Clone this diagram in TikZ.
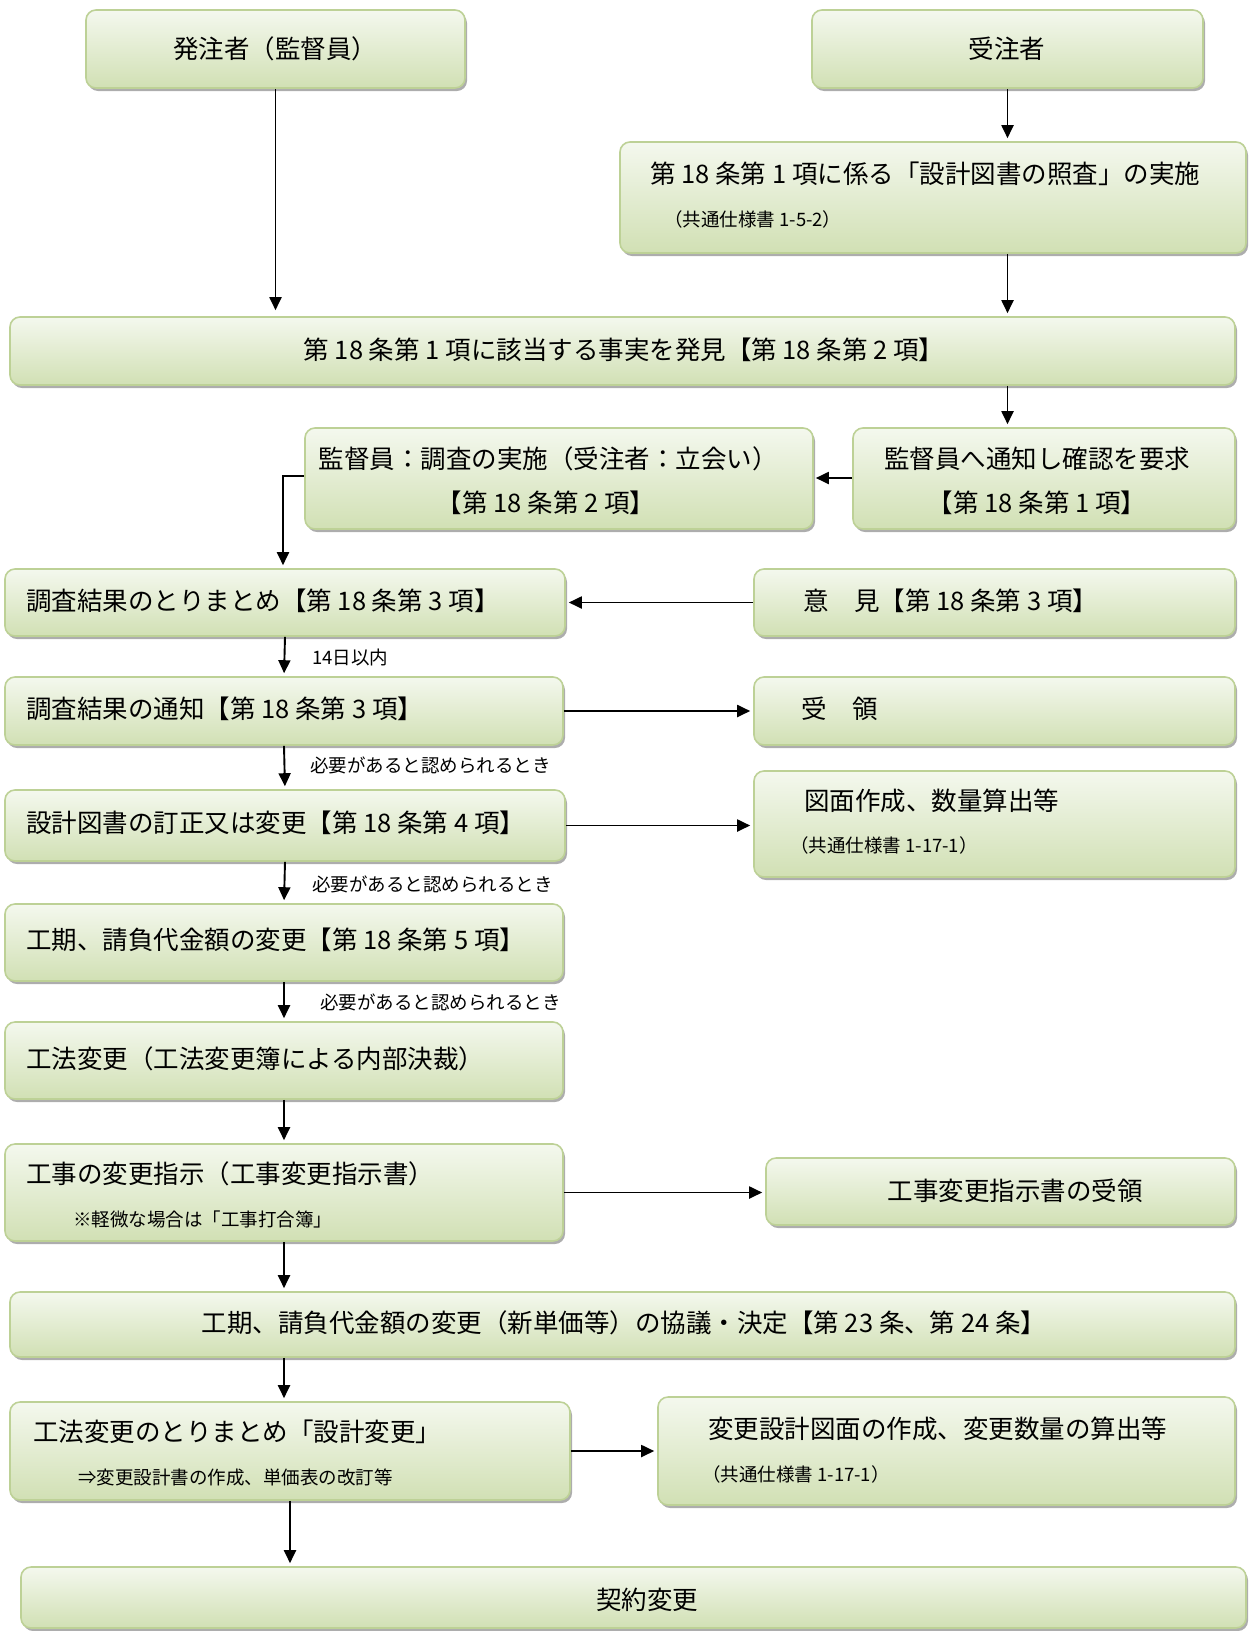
\documentclass[tikz,border=0pt]{standalone}
\usepackage{fontspec}
\setmainfont{Noto Sans CJK JP}
\usetikzlibrary{arrows.meta,shadows,calc}
\definecolor{gtop}{HTML}{F4F8EE}
\definecolor{gbot}{HTML}{D1E0B4}
\definecolor{gline}{HTML}{BDD196}
\tikzset{
  gbox/.style={rectangle, rounded corners=10pt, draw=gline, line width=1.6pt,
    top color=gtop, bottom color=gbot, inner sep=0pt,
    drop shadow={shadow xshift=2pt, shadow yshift=-3pt, fill=black!40, opacity=0.8}},
  big/.style={font=\fontsize{25.5}{30}\selectfont, inner sep=0pt},
  small/.style={font=\fontsize{18.5}{22}\selectfont, inner sep=0pt},
  arr/.style={-{Triangle[length=13pt,width=12pt]}, line width=1.9pt, black},
}
\newcommand\gbox[6]{\node[gbox, minimum width={#4pt-#2pt}, minimum height={#5pt-#3pt}] (#1) at ({(#2+#4)/2},{(#3+#5)/2}) {#6};}
\begin{document}
\begin{tikzpicture}[x=1pt,y=-1pt]
\useasboundingbox (0,0) rectangle (1250,1631);
% boxes
\gbox{b1}{86}{10}{465}{88}{}
\gbox{b2}{812}{10}{1203}{88}{}
\gbox{b3}{620}{142}{1246}{253}{}
\gbox{b4}{10}{317}{1235}{385}{}
\gbox{b5}{305}{428}{813}{529}{}
\gbox{b6}{853}{428}{1235}{529}{}
\gbox{b7}{5}{569}{565}{636}{}
\gbox{b8}{754}{569}{1235}{636}{}
\gbox{b9}{5}{677}{563}{745}{}
\gbox{b10}{754}{677}{1235}{745}{}
\gbox{b11}{5}{790}{565}{861}{}
\gbox{b12}{754}{771}{1235}{877}{}
\gbox{b13}{5}{904}{563}{981}{}
\gbox{b14}{5}{1022}{563}{1099}{}
\gbox{b15}{5}{1144}{563}{1241}{}
\gbox{b16}{766}{1158}{1235}{1225}{}
\gbox{b17}{10}{1292}{1235}{1357}{}
\gbox{b18}{10}{1402}{570}{1500}{}
\gbox{b19}{658}{1397}{1235}{1505}{}
\gbox{b20}{21}{1567}{1246}{1628}{}
% texts
\node[big] (t1) at (275,49) {発注者（監督員）};
\node[big] (t2) at (1007,49) {受注者};
\node[big,anchor=west] (t3a) at (650,174) {第 18 条第 1 項に係る「設計図書の照査」の実施};
\node[small,anchor=west] (t3b) at (664,219) {（共通仕様書 1-5-2）};
\node[big] (t4) at (624,350) {第 18 条第 1 項に該当する事実を発見【第 18 条第 2 項】};
\node[big] (t5a) at (548,459) {監督員：調査の実施（受注者：立会い）};
\node[big] (t5b) at (546,503) {【第 18 条第 2 項】};
\node[big] (t6a) at (1037,459) {監督員へ通知し確認を要求};
\node[big] (t6b) at (1037,503) {【第 18 条第 1 項】};
\node[big,anchor=west] (t7) at (26,601) {調査結果のとりまとめ【第 18 条第 3 項】};
\node[big,anchor=west] (t8) at (803,601) {意　見【第 18 条第 3 項】};
\node[big,anchor=west] (t9) at (26,709) {調査結果の通知【第 18 条第 3 項】};
\node[big,anchor=west] (t10) at (801,709) {受　領};
\node[big,anchor=west] (t11) at (26,823) {設計図書の訂正又は変更【第 18 条第 4 項】};
\node[big,anchor=west] (t12a) at (804,801) {図面作成、数量算出等};
\node[small,anchor=west] (t12b) at (790,845) {（共通仕様書 1-17-1）};
\node[big,anchor=west] (t13) at (26,940) {工期、請負代金額の変更【第 18 条第 5 項】};
\node[big,anchor=west] (t14) at (26,1059) {工法変更（工法変更簿による内部決裁）};
\node[big,anchor=west] (t15a) at (26,1174) {工事の変更指示（工事変更指示書）};
\node[small,anchor=west] (t15b) at (73,1219) {※軽微な場合は「工事打合簿」};
\node[big] (t16) at (1015,1191) {工事変更指示書の受領};
\node[big] (t17) at (624,1323) {工期、請負代金額の変更（新単価等）の協議・決定【第 23 条、第 24 条】};
\node[big,anchor=west] (t18a) at (33,1432) {工法変更のとりまとめ「設計変更」};
\node[small,anchor=west] (t18b) at (78,1477) {⇒変更設計書の作成、単価表の改訂等};
\node[big,anchor=west] (t19a) at (708,1429) {変更設計図面の作成、変更数量の算出等};
\node[small,anchor=west] (t19b) at (702,1474) {（共通仕様書 1-17-1）};
\node[big] (t20) at (647,1600) {契約変更};
% labels
\node[small,anchor=west] (l1) at (312,657) {14日以内};
\node[small,anchor=west] (l2) at (310,765) {必要があると認められるとき};
\node[small,anchor=west] (l3) at (312,884) {必要があると認められるとき};
\node[small,anchor=west] (l4) at (320,1002) {必要があると認められるとき};
% connectors
\draw[arr, shorten >=6pt] (b1.south) -- (b1.south |- b4.north);
\draw[arr, shorten >=3pt] (b2.south) -- (b2.south |- b3.north);
\draw[arr, shorten >=3pt] (b3.south -| b2.south) -- (b2.south |- b4.north);
\draw[arr, shorten >=3pt] (b4.south -| b2.south) -- (b2.south |- b6.north);
\draw[arr, shorten >=2pt] (b6.west |- 0,478) -- (b5.east |- 0,478);
\coordinate (c1) at (283,476);
\draw[arr, shorten >=3pt] (b5.west |- c1) -- (c1) -- (c1 |- b7.north);
\draw[arr, shorten >=3pt] (b8.west) -- (b8.west -| b7.east);
\draw[arr, shorten >=3pt] (b7.south) -- (b9.north);
\draw[arr, shorten >=3pt] (b9.east) -- (b9.east -| b10.west);
\draw[arr, shorten >=3pt] (b9.south) -- (b11.north);
\draw[arr, shorten >=3pt] (b11.east) -- (b11.east -| b12.west);
\draw[arr, shorten >=3pt] (b11.south) -- (b13.north);
\draw[arr, shorten >=3pt] (b13.south) -- (b14.north);
\draw[arr, shorten >=3pt] (b14.south) -- (b15.north);
\draw[arr, shorten >=3pt] (b15.east) -- (b15.east -| b16.west);
\draw[arr, shorten >=3pt] (b15.south) -- (b15.south |- b17.north);
\draw[arr, shorten >=3pt] (b17.south -| b15.south) -- (b15.south |- b18.north);
\draw[arr, shorten >=3pt] (b18.east) -- (b18.east -| b19.west);
\draw[arr, shorten >=3pt] (b18.south) -- (b18.south |- b20.north);
\end{tikzpicture}
\end{document}
